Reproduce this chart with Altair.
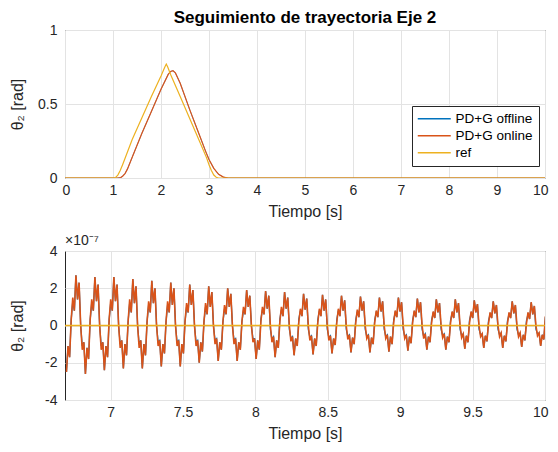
import altair as alt
import pandas as pd
import numpy as np

SERIES = ["PD+G offline", "PD+G online", "ref"]
COLORS = ["#0072BD", "#D95319", "#EDB120"]

# ---------------- top panel (full trajectory) ----------------
top_ref_t = [0, 1.0, 1.05, 1.1, 1.15, 1.2, 1.4, 1.6, 1.8, 2.0, 2.08, 2.11, 2.14, 2.2,
             2.4, 2.6, 2.8, 2.95, 3.0, 3.05, 3.1, 3.15, 3.2, 10]
top_ref_y = [0, 0, 0.003, 0.02, 0.05, 0.09, 0.26, 0.405, 0.55, 0.69, 0.75, 0.77, 0.75, 0.70,
             0.55, 0.40, 0.25, 0.136, 0.09, 0.05, 0.02, 0.005, 0, 0]

top_on_t = [0, 1.1, 1.16, 1.2, 1.25, 1.3, 1.4, 1.6, 1.8, 2.0, 2.15, 2.2, 2.25, 2.3,
            2.4, 2.6, 2.8, 2.93, 3.0, 3.1, 3.2, 3.3, 3.4, 10]
top_on_y = [0, 0, 0.003, 0.012, 0.03, 0.06, 0.14, 0.30, 0.45, 0.60, 0.70, 0.72, 0.725, 0.71,
            0.64, 0.46, 0.29, 0.18, 0.125, 0.065, 0.025, 0.006, 0, 0]

top_off_t = [0, 1.1, 1.16, 1.2, 1.25, 1.3, 1.4, 1.6, 1.8, 2.0, 2.15, 2.2, 2.25, 2.3,
             2.4, 2.6, 2.8, 2.93, 3.0, 3.1, 3.2, 3.3, 3.4, 10]
top_off_y = [0, 0, 0.003, 0.012, 0.03, 0.06, 0.14, 0.30, 0.45, 0.60, 0.70, 0.72, 0.725, 0.71,
             0.64, 0.46, 0.29, 0.18, 0.125, 0.065, 0.025, 0.006, 0, 0]

# ---------------- bottom panel (zoom, units of 1e-7 rad) ----------------
bot_t0 = 6.695
bot_dt = 0.010917
bot_on_y = [
    -2.5, -1.1, -1.7, 0.3, 1.5, 0.8, 2.7, 1.4, 2.3, 0.0, -1.3, -0.9,
    -2.6, -1.2, -1.8, 0.3, 1.4, 0.8, 2.6, 1.3, 2.2, 0.0, -1.3, -0.9,
    -2.4, -1.1, -1.7, 0.3, 1.4, 0.8, 2.6, 1.3, 2.2, 0.0, -1.2, -0.8,
    -2.3, -1.0, -1.6, 0.2, 1.4, 0.7, 2.5, 1.2, 2.1, 0.0, -1.2, -0.8,
    -2.3, -1.0, -1.6, 0.2, 1.3, 0.7, 2.4, 1.2, 2.0, 0.0, -1.1, -0.8,
    -2.2, -1.0, -1.5, 0.2, 1.3, 0.7, 2.3, 1.1, 2.0, 0.0, -1.1, -0.8,
    -2.2, -1.0, -1.5, 0.2, 1.2, 0.7, 2.2, 1.1, 1.9, 0.0, -1.1, -0.8,
    -2.0, -0.9, -1.4, 0.2, 1.2, 0.6, 2.1, 1.0, 1.8, 0.0, -1.0, -0.7,
    -1.9, -0.9, -1.3, 0.2, 1.1, 0.6, 2.0, 1.0, 1.7, 0.0, -1.0, -0.7,
    -1.9, -0.9, -1.3, 0.2, 1.0, 0.6, 1.9, 1.0, 1.6, 0.0, -0.9, -0.7,
    -1.8, -0.8, -1.3, 0.2, 1.0, 0.6, 1.85, 0.9, 1.6, 0.0, -0.9, -0.6,
    -1.7, -0.8, -1.2, 0.2, 1.0, 0.5, 1.8, 0.9, 1.5, 0.0, -0.85, -0.6,
    -1.6, -0.7, -1.1, 0.2, 0.9, 0.5, 1.7, 0.85, 1.45, 0.0, -0.8, -0.55,
    -1.55, -0.7, -1.1, 0.15, 0.9, 0.5, 1.65, 0.8, 1.4, 0.0, -0.8, -0.55,
    -1.5, -0.7, -1.05, 0.15, 0.9, 0.5, 1.6, 0.8, 1.35, 0.0, -0.75, -0.5,
    -1.45, -0.65, -1.0, 0.15, 0.85, 0.45, 1.55, 0.8, 1.3, 0.0, -0.7, -0.5,
    -1.45, -0.65, -1.0, 0.15, 0.8, 0.45, 1.5, 0.75, 1.3, 0.0, -0.7, -0.5,
    -1.4, -0.6, -1.0, 0.15, 0.8, 0.45, 1.5, 0.75, 1.25, 0.0, -0.7, -0.5,
    -1.35, -0.6, -0.95, 0.15, 0.8, 0.45, 1.45, 0.7, 1.25, 0.0, -0.7, -0.45,
    -1.3, -0.6, -0.9, 0.15, 0.75, 0.4, 1.4, 0.7, 1.2, 0.0, -0.65, -0.45,
    -1.3, -0.6, -0.9, 0.15, 0.75, 0.4, 1.4, 0.7, 1.2, 0.0, -0.65, -0.45,
    -1.25, -0.55, -0.9, 0.15, 0.75, 0.4, 1.35, 0.7, 1.15, 0.0, -0.6, -0.45,
    -1.2, -0.55, -0.85, 0.1, 0.7, 0.4, 1.3, 0.65, 1.1, 0.0, -0.6, -0.4,
    -1.2, -0.55, -0.85, 0.1, 0.7, 0.4, 1.3, 0.65, 1.1, 0.0, -0.6, -0.4,
    -1.15, -0.5, -0.8, 0.1, 0.7, 0.35, 1.25, 0.6, 1.05, 0.0, -0.55, -0.4,
    -1.1, -0.5, -0.75, 0.5,
]

bot_off_y = [
    -2.5, -1.1, -1.7, 0.3, 1.3, 0.8, 2.7, 1.4, 2.3, 0.0, -1.1, -0.9,
    -2.6, -1.2, -1.8, 0.3, 1.2, 0.8, 2.6, 1.3, 2.2, 0.0, -1.1, -0.9,
    -2.4, -1.1, -1.7, 0.3, 1.2, 0.8, 2.6, 1.3, 2.2, 0.0, -1.0, -0.8,
    -2.3, -1.0, -1.6, 0.2, 1.2, 0.7, 2.5, 1.2, 2.1, 0.0, -1.0, -0.8,
    -2.3, -1.0, -1.6, 0.2, 1.1, 0.7, 2.4, 1.2, 2.0, 0.0, -0.9, -0.8,
    -2.2, -1.0, -1.5, 0.2, 1.1, 0.7, 2.3, 1.1, 2.0, 0.0, -0.9, -0.8,
    -2.2, -1.0, -1.5, 0.2, 1.0, 0.7, 2.2, 1.1, 1.9, 0.0, -0.9, -0.8,
    -2.0, -0.9, -1.4, 0.2, 1.0, 0.6, 2.1, 1.0, 1.8, 0.0, -0.8, -0.7,
    -1.9, -0.9, -1.3, 0.2, 0.9, 0.6, 2.0, 1.0, 1.7, 0.0, -0.8, -0.7,
    -1.9, -0.9, -1.3, 0.2, 0.8, 0.6, 1.9, 1.0, 1.6, 0.0, -0.7, -0.7,
    -1.8, -0.8, -1.3, 0.35, 0.85, 0.6, 1.85, 0.9, 1.6, -0.2, -0.75, -0.6,
    -1.7, -0.8, -1.2, 0.35, 0.85, 0.5, 1.8, 0.9, 1.5, -0.2, -0.7, -0.6,
    -1.6, -0.7, -1.1, 0.35, 0.8, 0.5, 1.7, 0.85, 1.45, -0.2, -0.65, -0.55,
    -1.55, -0.7, -1.1, 0.3, 0.8, 0.5, 1.65, 0.8, 1.4, -0.2, -0.65, -0.55,
    -1.5, -0.7, -1.05, 0.3, 0.8, 0.5, 1.6, 0.8, 1.35, -0.2, -0.6, -0.5,
    -1.45, -0.65, -1.0, 0.3, 0.75, 0.45, 1.55, 0.8, 1.3, -0.2, -0.6, -0.5,
    -1.45, -0.65, -1.0, 0.3, 0.7, 0.45, 1.5, 0.75, 1.3, -0.2, -0.6, -0.5,
    -1.4, -0.6, -1.0, 0.3, 0.7, 0.45, 1.5, 0.75, 1.25, -0.2, -0.6, -0.5,
    -1.35, -0.6, -0.95, 0.3, 0.7, 0.45, 1.45, 0.7, 1.25, -0.2, -0.6, -0.45,
    -1.3, -0.6, -0.9, 0.3, 0.65, 0.4, 1.4, 0.7, 1.2, -0.2, -0.55, -0.45,
    -1.3, -0.6, -0.9, 0.3, 0.65, 0.4, 1.4, 0.7, 1.2, -0.2, -0.55, -0.45,
    -1.25, -0.55, -0.9, 0.3, 0.65, 0.4, 1.35, 0.7, 1.15, -0.2, -0.5, -0.45,
    -1.2, -0.55, -0.85, 0.25, 0.6, 0.4, 1.3, 0.65, 1.1, -0.2, -0.5, -0.4,
    -1.2, -0.55, -0.85, 0.25, 0.6, 0.4, 1.3, 0.65, 1.1, -0.2, -0.5, -0.4,
    -1.15, -0.5, -0.8, 0.25, 0.6, 0.35, 1.25, 0.6, 1.05, -0.2, -0.45, -0.4,
    -1.1, -0.5, -0.75, 0.45,
]

bot_ref_t = [6.685, 10]
bot_ref_y = [0, 0]

FONT = "Liberation Sans"
TXT = "#262626"

top_off = pd.DataFrame({"t": top_off_t, "y": top_off_y, "s": SERIES[0]})
top_on = pd.DataFrame({"t": top_on_t, "y": top_on_y, "s": SERIES[1]})
top_ref = pd.DataFrame({"t": top_ref_t, "y": top_ref_y, "s": SERIES[2]})

bot_on = pd.DataFrame({"t": bot_t0 + bot_dt * np.arange(len(bot_on_y)),
                       "y": bot_on_y, "s": SERIES[1]})
bot_off = pd.DataFrame({"t": bot_t0 + bot_dt * np.arange(len(bot_off_y)),
                        "y": bot_off_y, "s": SERIES[0]})
bot_ref = pd.DataFrame({"t": bot_ref_t, "y": bot_ref_y, "s": SERIES[2]})

color_scale = alt.Scale(domain=SERIES, range=COLORS)

legend = alt.Legend(
    orient="none", legendX=347, legendY=76, title=None,
    symbolType="M-1.4,0H5.2", symbolSize=100, symbolStrokeWidth=1.5,
    labelFontSize=13.5, labelFont=FONT, labelColor="black",
    labelExpr="datum.label + '\u00a0'",
    fillColor="white", strokeColor="#262626", padding=6, rowPadding=2,
    labelOffset=24,
)

LBL = "'' + datum.value"


def axis_x(values):
    return alt.Axis(values=values, labelExpr=LBL, title="Tiempo [s]", grid=True,
                    gridColor="#e3e3e3", domain=False, ticks=False, labelPadding=5,
                    labelFontSize=14, labelFont=FONT, labelColor=TXT, titleFont=FONT,
                    titleFontSize=16, titleFontWeight="normal", titleColor=TXT,
                    titlePadding=6, labelFlush=True, labelFlushOffset=3)


def axis_y(values):
    return alt.Axis(values=values, labelExpr=LBL, title="θ₂ [rad]", grid=True,
                    gridColor="#e3e3e3", domain=False, ticks=False, labelPadding=8,
                    labelFontSize=14, labelFont=FONT, labelColor=TXT, titleFont=FONT,
                    titleFontSize=16, titleFontWeight="normal", titleColor=TXT,
                    titlePadding=12, minExtent=28, maxExtent=28)


xs_top = alt.Scale(domain=[0, 10], nice=False, zero=False)
ys_top = alt.Scale(domain=[0, 1], nice=False)

top_layers = []
for df, w in ((top_off, 0.6), (top_on, 1.2), (top_ref, 1.2)):
    top_layers.append(
        alt.Chart(df).mark_line(strokeWidth=w, clip=True).encode(
            x=alt.X("t:Q", scale=xs_top, axis=axis_x(list(range(0, 11)))),
            y=alt.Y("y:Q", scale=ys_top, axis=axis_y([0, 0.5, 1])),
            color=alt.Color("s:N", scale=color_scale, legend=legend),
        )
    )
top = alt.layer(*top_layers).properties(
    width=480, height=148,
    title=alt.TitleParams("Seguimiento de trayectoria Eje 2", fontSize=17, fontWeight="bold",
                          font=FONT, color="black", anchor="middle", frame="group", offset=-4),
)

xs_bot = alt.Scale(domain=[6.685, 10], nice=False, zero=False)
ys_bot = alt.Scale(domain=[-4, 4], nice=False)

bot_layers = []
for df, w in ((bot_off, 1.3), (bot_on, 1.6), (bot_ref, 1.6)):
    bot_layers.append(
        alt.Chart(df).mark_line(strokeWidth=w, clip=True).encode(
            x=alt.X("t:Q", scale=xs_bot, axis=axis_x([7, 7.5, 8, 8.5, 9, 9.5, 10])),
            y=alt.Y("y:Q", scale=ys_bot, axis=axis_y([-4, -2, 0, 2, 4])),
            color=alt.Color("s:N", scale=color_scale, legend=None),
        )
    )
bottom = alt.layer(*bot_layers).properties(
    width=480, height=149,
    title=alt.TitleParams("×10⁻⁷", fontSize=14, fontWeight="normal", font=FONT,
                          color=TXT, anchor="start", frame="group", offset=-4),
)

chart = alt.vconcat(top, bottom, spacing=13).resolve_scale(color="independent").properties(
    padding={"left": 0, "top": 0, "right": 0, "bottom": 0},
    background="white",
).configure_view(stroke="#262626", strokeWidth=1)

chart.save("out.html", embed_options={"renderer": "svg", "actions": False})
